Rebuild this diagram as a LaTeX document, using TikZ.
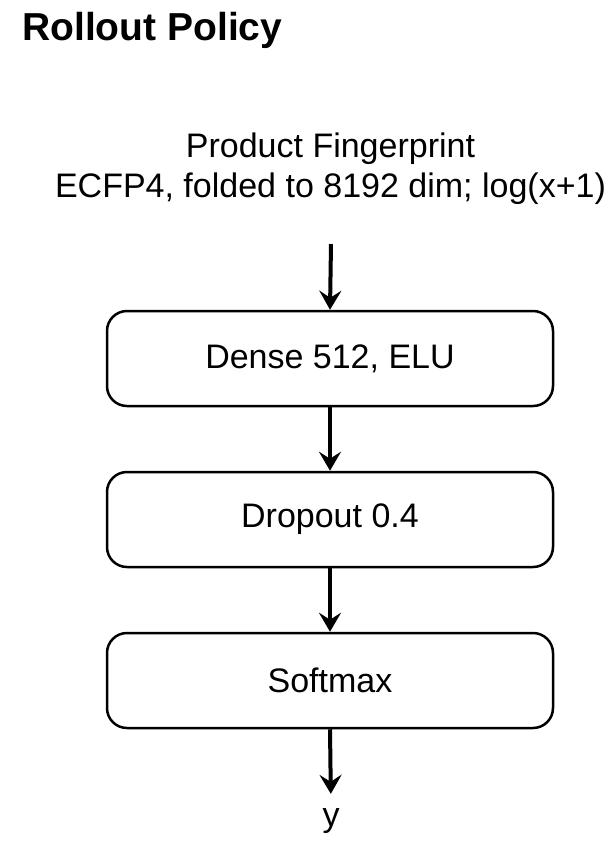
\documentclass[tikz,border=0pt]{standalone}
\usepackage{fontspec}
\setmainfont{Liberation Sans}
\usetikzlibrary{arrows.meta}
\begin{document}
\begin{tikzpicture}[x=1pt,y=1pt,
  stagebox/.style={draw=black, line width=2.5pt, rounded corners=20pt,
    minimum width=446pt, minimum height=95pt, inner sep=0pt,
    font=\fontsize{34}{40}\selectfont},
  flow/.style={draw=black, line width=4pt,
    -{Stealth[length=19pt,width=22pt,inset=7pt]}},
  plain/.style={inner sep=0pt, font=\fontsize{34}{40}\selectfont}]
\useasboundingbox (0,0) rectangle (615,-855);
\node[anchor=base west, inner sep=0pt, font=\fontsize{39}{44}\bfseries\selectfont] (title) at (22,-40) {Rollout Policy};
\node[plain, anchor=base] (in1) at (330.5,-157) {Product Fingerprint};
\node[plain, anchor=base] (in2) at (330.5,-197) {ECFP4, folded to 8192 dim; log(x+1)};
\coordinate (src) at (331,-244);
\node[stagebox] (b1) at (330,-358.5) {Dense 512, ELU};
\node[stagebox] (b2) at (330,-519.5) {Dropout 0.4};
\node[stagebox] (b3) at (330,-680.5) {Softmax};
\node[plain, anchor=base] (out) at (331,-826) {y};
\draw[flow] (src) -- (b1.north);
\draw[flow] (b1.south) -- (b2.north);
\draw[flow] (b2.south) -- (b3.north);
\draw[flow, shorten >=14pt] (b3.south) -- (out.north);
\end{tikzpicture}
\end{document}
